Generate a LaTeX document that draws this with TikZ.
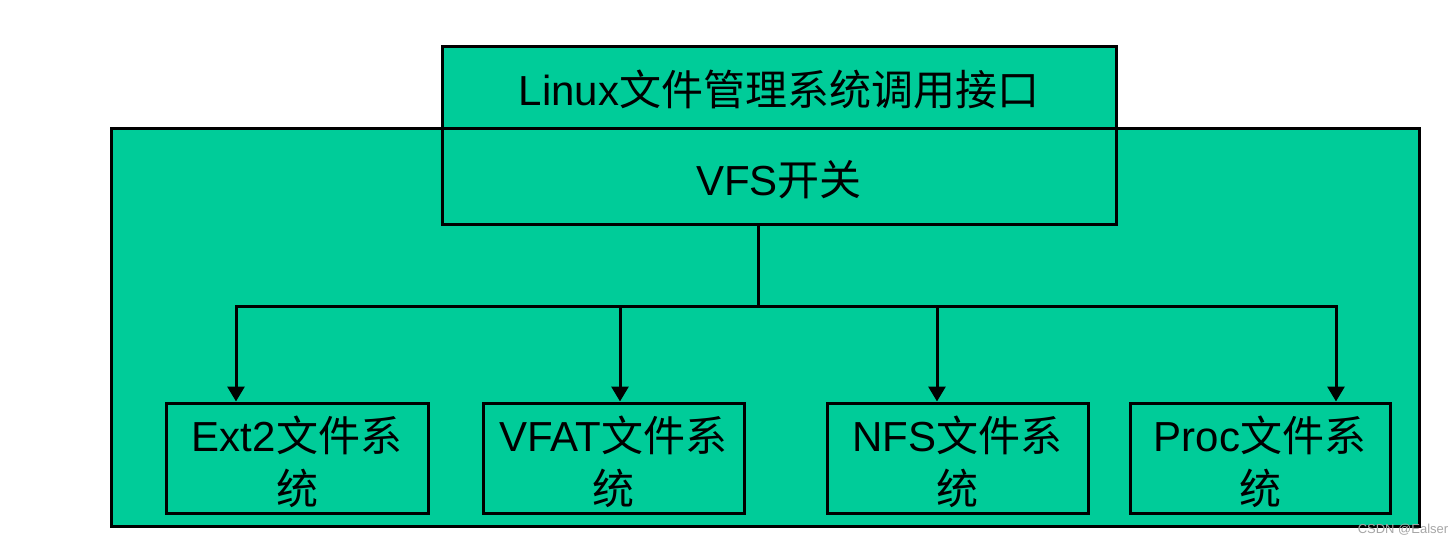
\documentclass[tikz,border=0pt]{standalone}
\usepackage{fontspec}
\setmainfont{Liberation Sans}
\newfontfamily\cjk{Noto Sans CJK SC}
\usetikzlibrary{arrows.meta}
\definecolor{boxgreen}{RGB}{0,204,153}
\newcommand{\tlines}[1]{\begin{tabular}{@{}c@{}}#1\end{tabular}}
\tikzset{
  box/.style={draw=black, line width=3pt, fill=boxgreen, inner sep=0pt},
  txt/.style={inner sep=0pt, align=center, font=\fontsize{42}{53}\selectfont},
  arr/.style={line width=3pt, -{Triangle[width=17pt,length=15pt]}},
  link/.style={line width=3pt}
}
\begin{document}
\begin{tikzpicture}[x=1pt,y=-1pt]
\useasboundingbox (0,0) rectangle (1456,544);
\node[box, minimum width=1308pt, minimum height=398pt] (outer) at (765,327) {};
\node[box, minimum width=674pt, minimum height=82pt] (linux) at (779,87) {};
\node[box, minimum width=674pt, minimum height=96pt] (vfs) at (779,176) {};
\node[box, minimum width=262pt, minimum height=110pt] (ext2) at (297,458) {};
\node[box, minimum width=261pt, minimum height=110pt] (vfat) at (613.5,458) {};
\node[box, minimum width=261pt, minimum height=110pt] (nfs) at (957.5,458) {};
\node[box, minimum width=260pt, minimum height=110pt] (proc) at (1260,458) {};
\node[txt] (linuxt) at ([yshift=-8pt]linux.center) {\tlines{Linux{\cjk 文件管理系统调用接口}}};
\node[txt] (vfst) at ([yshift=-9pt]vfs.center) {\tlines{VFS{\cjk 开关}}};
\node[txt] (ext2t) at ([yshift=-9pt]ext2.center) {\tlines{Ext2{\cjk 文件系}\\{\cjk 统}}};
\node[txt] (vfatt) at ([yshift=-9pt]vfat.center) {\tlines{VFAT{\cjk 文件系}\\{\cjk 统}}};
\node[txt] (nfst) at ([yshift=-9pt]nfs.center) {\tlines{NFS{\cjk 文件系}\\{\cjk 统}}};
\node[txt] (proct) at ([yshift=-9pt]proc.center) {\tlines{Proc{\cjk 文件系}\\{\cjk 统}}};
\coordinate (t) at ([xshift=-21pt]vfs.south);
\coordinate (j) at (758,306);
\draw[link] (t) -- (j);
\draw[arr] (j) -| ([xshift=-61pt]ext2.north);
\draw[arr] (j) -| ([xshift=6.5pt]vfat.north);
\draw[arr] (j) -| ([xshift=-20.5pt]nfs.north);
\draw[arr] (j) -| ([xshift=76pt]proc.north);
\node[text=black!35, font=\fontsize{13}{15}\selectfont, inner sep=0pt] (wm) at (1403,530) {CSDN @Ealser};
\end{tikzpicture}
\end{document}
